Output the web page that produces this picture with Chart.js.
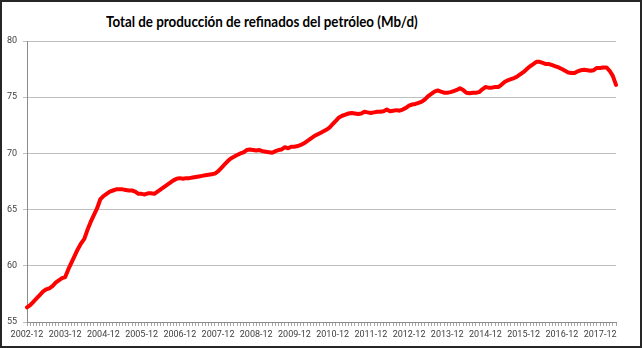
<!DOCTYPE html>
<html lang="es">
<head>
<meta charset="utf-8">
<script src="https://cdn.jsdelivr.net/npm/chart.js@4"></script>
<style>
  html, body { margin: 0; padding: 0; background: #fff; }
  #marco { position: relative; width: 642px; height: 348px; box-sizing: border-box; border: 2px solid #262626; background: #fff; }
  #titulo { position: absolute; left: 104px; top: 9px; font: bold 16px Lato, sans-serif; color: #000; white-space: nowrap; transform: scaleX(0.835); transform-origin: 0 0; }
  #grafico { position: absolute; left: 0; top: 0; }
</style>
</head>
<body>
<div id="marco">
  <div id="titulo">Total de producción de refinados del petróleo (Mb/d)</div>
  <canvas id="grafico" width="638" height="344"></canvas>
</div>
<script>
// serie mensual desde 2002-12 hasta 2018-05 (Mb/d)
const ANIO_INICIO = 2002;
const MES_INICIO = 12;

const produccion = [
  56.3, 56.5, 56.8, 57.1, 57.4, 57.7, 57.9, 58.0, 58.2, 58.5, 58.7, 58.9,
  59.0, 59.7, 60.3, 60.9, 61.5, 62.0, 62.4, 63.2, 63.9, 64.5, 65.1, 65.9,
  66.2, 66.4, 66.6, 66.7, 66.8, 66.8, 66.8, 66.75, 66.7, 66.7, 66.6, 66.4,
  66.4, 66.35, 66.45, 66.45, 66.4, 66.6, 66.8, 67.0, 67.2, 67.4, 67.6, 67.75,
  67.8, 67.75, 67.8, 67.8, 67.85, 67.9, 67.95, 68.0, 68.05, 68.1, 68.15, 68.2,
  68.4, 68.7, 69.0, 69.3, 69.55, 69.7, 69.85, 70.0, 70.1, 70.3, 70.35, 70.3,
  70.25, 70.3, 70.2, 70.15, 70.1, 70.05, 70.2, 70.3, 70.35, 70.55, 70.45, 70.6,
  70.6, 70.65, 70.75, 70.9, 71.1, 71.3, 71.5, 71.65, 71.8, 71.95, 72.1, 72.3,
  72.6, 72.9, 73.2, 73.35, 73.45, 73.55, 73.6, 73.55, 73.5, 73.55, 73.7, 73.65,
  73.6, 73.65, 73.7, 73.7, 73.75, 73.9, 73.75, 73.8, 73.85, 73.8, 73.9, 74.05,
  74.25, 74.35, 74.4, 74.5, 74.6, 74.8, 75.1, 75.3, 75.5, 75.6, 75.5, 75.4,
  75.4, 75.45, 75.55, 75.65, 75.8, 75.65, 75.4, 75.35, 75.4, 75.4, 75.45, 75.7,
  75.9, 75.85, 75.85, 75.9, 75.9, 76.1, 76.35, 76.5, 76.6, 76.7, 76.85, 77.05,
  77.25, 77.5, 77.75, 77.95, 78.15, 78.15, 78.05, 77.95, 77.95, 77.85, 77.75, 77.65,
  77.5, 77.35, 77.2, 77.15, 77.15, 77.3, 77.4, 77.45, 77.4, 77.35, 77.4, 77.6,
  77.6, 77.65, 77.65, 77.35, 76.9, 76.1
];

// etiquetas AAAA-MM para cada mes
const meses = produccion.map((_, i) => {
  const n = MES_INICIO - 1 + i;
  return (ANIO_INICIO + Math.floor(n / 12)) + '-' + String(n % 12 + 1).padStart(2, '0');
});

const fuenteEjes = { family: 'Roboto, sans-serif', size: 9 };

new Chart(document.getElementById('grafico'), {
  type: 'line',
  data: {
    labels: meses,
    datasets: [{
      data: produccion,
      borderColor: '#ff0000',
      borderWidth: 4,
      pointRadius: 0,
      borderJoinStyle: 'round',
      borderCapStyle: 'round',
      tension: 0
    }]
  },
  options: {
    responsive: false,
    animation: false,
    layout: { padding: { top: 39, right: 24, left: 0, bottom: 0 } },
    plugins: {
      legend: { display: false },
      tooltip: { enabled: false }
    },
    scales: {
      x: {
        afterFit: (scale) => { scale.height = 24; },
        grid: { drawOnChartArea: false, color: '#a6a6a6', tickLength: 4 },
        border: { color: '#8c8c8c' },
        ticks: {
          autoSkip: false,
          maxRotation: 0,
          minRotation: 0,
          padding: 3,
          color: '#404040',
          font: fuenteEjes,
          callback: function (val) {
            const l = this.getLabelForValue(val);
            return l.endsWith('-12') ? l : '';
          }
        }
      },
      y: {
        min: 55,
        max: 80,
        afterFit: (scale) => { scale.width = 25; },
        grid: { color: '#bfbfbf', tickLength: 4 },
        border: { color: '#8c8c8c' },
        ticks: { stepSize: 5, padding: 6, color: '#404040', font: fuenteEjes }
      }
    }
  }
});
</script>
</body>
</html>
